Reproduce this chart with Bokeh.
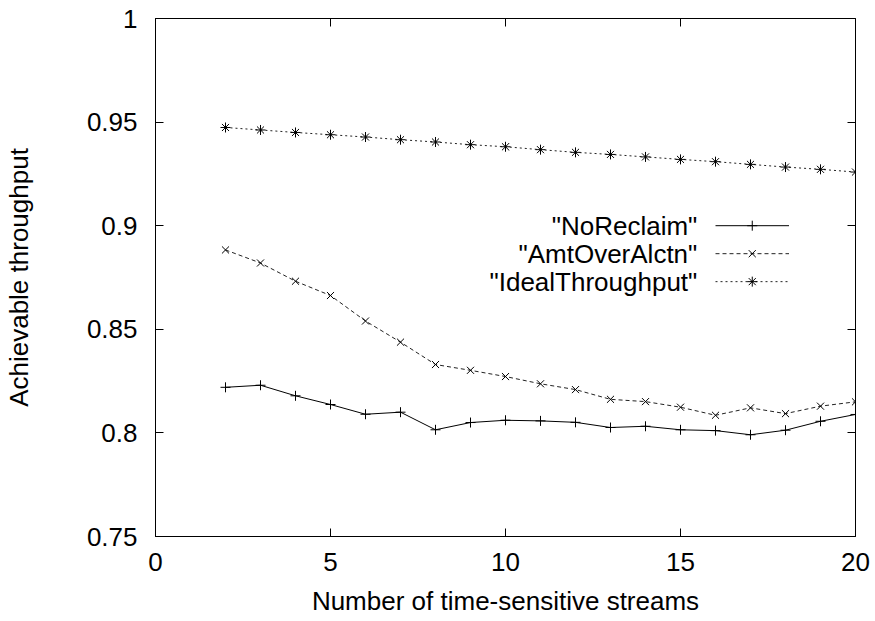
from bokeh.plotting import figure
from bokeh.models import LinearAxis, FixedTicker, Range1d
from bokeh.core.properties import value
from bokeh.embed import file_html
from bokeh.resources import INLINE

# ---- data ----
streams = [2, 3, 4, 5, 6, 7, 8, 9, 10, 11, 12, 13, 14, 15, 16, 17, 18, 19, 20]
no_reclaim = [0.8220, 0.8230, 0.8179, 0.8137, 0.8090, 0.8100, 0.8015, 0.8050, 0.8061, 0.8058,
              0.8051, 0.8026, 0.8032, 0.8015, 0.8011, 0.7991, 0.8013, 0.8056, 0.8089]
amt_over_alctn = [0.8883, 0.8820, 0.8732, 0.8663, 0.8540, 0.8438, 0.8330, 0.8302, 0.8272, 0.8237,
                  0.8209, 0.8162, 0.8151, 0.8124, 0.8085, 0.8121, 0.8093, 0.8129, 0.8150]
ideal_throughput = [0.9474, 0.9462, 0.9450, 0.9439, 0.9428, 0.9415, 0.9404, 0.9391, 0.9381, 0.9367,
                    0.9354, 0.9344, 0.9332, 0.9320, 0.9309, 0.9296, 0.9283, 0.9272, 0.9259]
series_labels = ['"NoReclaim"', '"AmtOverAlctn"', '"IdealThroughput"']
x_ticks = [0, 5, 10, 15, 20]
y_ticks = [0.75, 0.8, 0.85, 0.9, 0.95, 1.0]
y_tick_labels = ["0.75", "0.8", "0.85", "0.9", "0.95", "1"]

FONT = "Liberation Sans"
FS = "26px"

p = figure(width=875, height=621, output_backend="svg", toolbar_location=None,
           x_range=Range1d(0, 20), y_range=Range1d(0.75, 1.0),
           min_border_left=153, min_border_right=20, min_border_top=18, min_border_bottom=85)
p.background_fill_color = "white"
p.border_fill_color = "white"
p.xgrid.visible = False
p.ygrid.visible = False
p.outline_line_color = "black"
p.outline_line_width = 1
p.outline_line_alpha = 1

for ax in (p.xaxis[0], p.yaxis[0]):
    ax.axis_line_color = "black"
    ax.major_tick_line_color = "black"
    ax.major_tick_in = 8
    ax.major_tick_out = 0
    ax.minor_tick_line_color = None
    ax.major_label_text_font = FONT
    ax.major_label_text_font_size = FS
    ax.major_label_text_color = "black"
    ax.axis_label_text_font = FONT
    ax.axis_label_text_font_size = FS
    ax.axis_label_text_font_style = "normal"
    ax.axis_label_text_color = "black"

p.xaxis[0].ticker = FixedTicker(ticks=x_ticks)
p.yaxis[0].ticker = FixedTicker(ticks=y_ticks)
p.yaxis[0].major_label_overrides = {t: l for t, l in zip(y_ticks, y_tick_labels)}
p.xaxis[0].axis_label = "Number of time-sensitive streams"
p.yaxis[0].axis_label = "Achievable throughput"
p.xaxis[0].major_label_standoff = 16
p.xaxis[0].axis_label_standoff = 12
p.yaxis[0].major_label_standoff = 18
p.yaxis[0].axis_label_standoff = 50

# mirror ticks (no labels)
top = LinearAxis(ticker=FixedTicker(ticks=x_ticks), major_tick_in=8, major_tick_out=0,
                 minor_tick_line_color=None, axis_line_color=None,
                 major_label_overrides={t: "" for t in x_ticks}, major_label_standoff=0)
right = LinearAxis(ticker=FixedTicker(ticks=y_ticks), major_tick_in=8, major_tick_out=0,
                   minor_tick_line_color=None, axis_line_color=None,
                   major_label_overrides={t: "" for t in y_ticks}, major_label_standoff=0)
p.add_layout(top, "above")
p.add_layout(right, "right")

# series
styles = [
    dict(y=no_reclaim, dash="solid", marker="cross", color="black"),
    dict(y=amt_over_alctn, dash="4 3", marker="x", color="#222222"),
    dict(y=ideal_throughput, dash="2 3", marker="asterisk", color="#222222"),
]
for s in styles:
    p.line(streams, s["y"], line_color=s["color"], line_width=1, line_dash=s["dash"])
    p.scatter(streams, s["y"], marker=s["marker"], size=10, line_color="black", line_width=1)

# legend (manual, gnuplot style: label right-aligned then sample)
leg_text_x = 15.48
leg_x0, leg_x1 = 16.0, 18.1
leg_rows = [0.9000, 0.8865, 0.8730]
for lab, s, yy in zip(series_labels, styles, leg_rows):
    p.text([leg_text_x], [yy], text=[lab], text_align="right", text_baseline="middle",
           text_font=value(FONT), text_font_size=FS, text_color="black")
    p.line([leg_x0, leg_x1], [yy, yy], line_color=s["color"], line_width=1, line_dash=s["dash"])
    p.scatter([(leg_x0 + leg_x1) / 2], [yy], marker=s["marker"], size=10, line_color="black", line_width=1)

open("out.html", "w").write(file_html(p, INLINE))
